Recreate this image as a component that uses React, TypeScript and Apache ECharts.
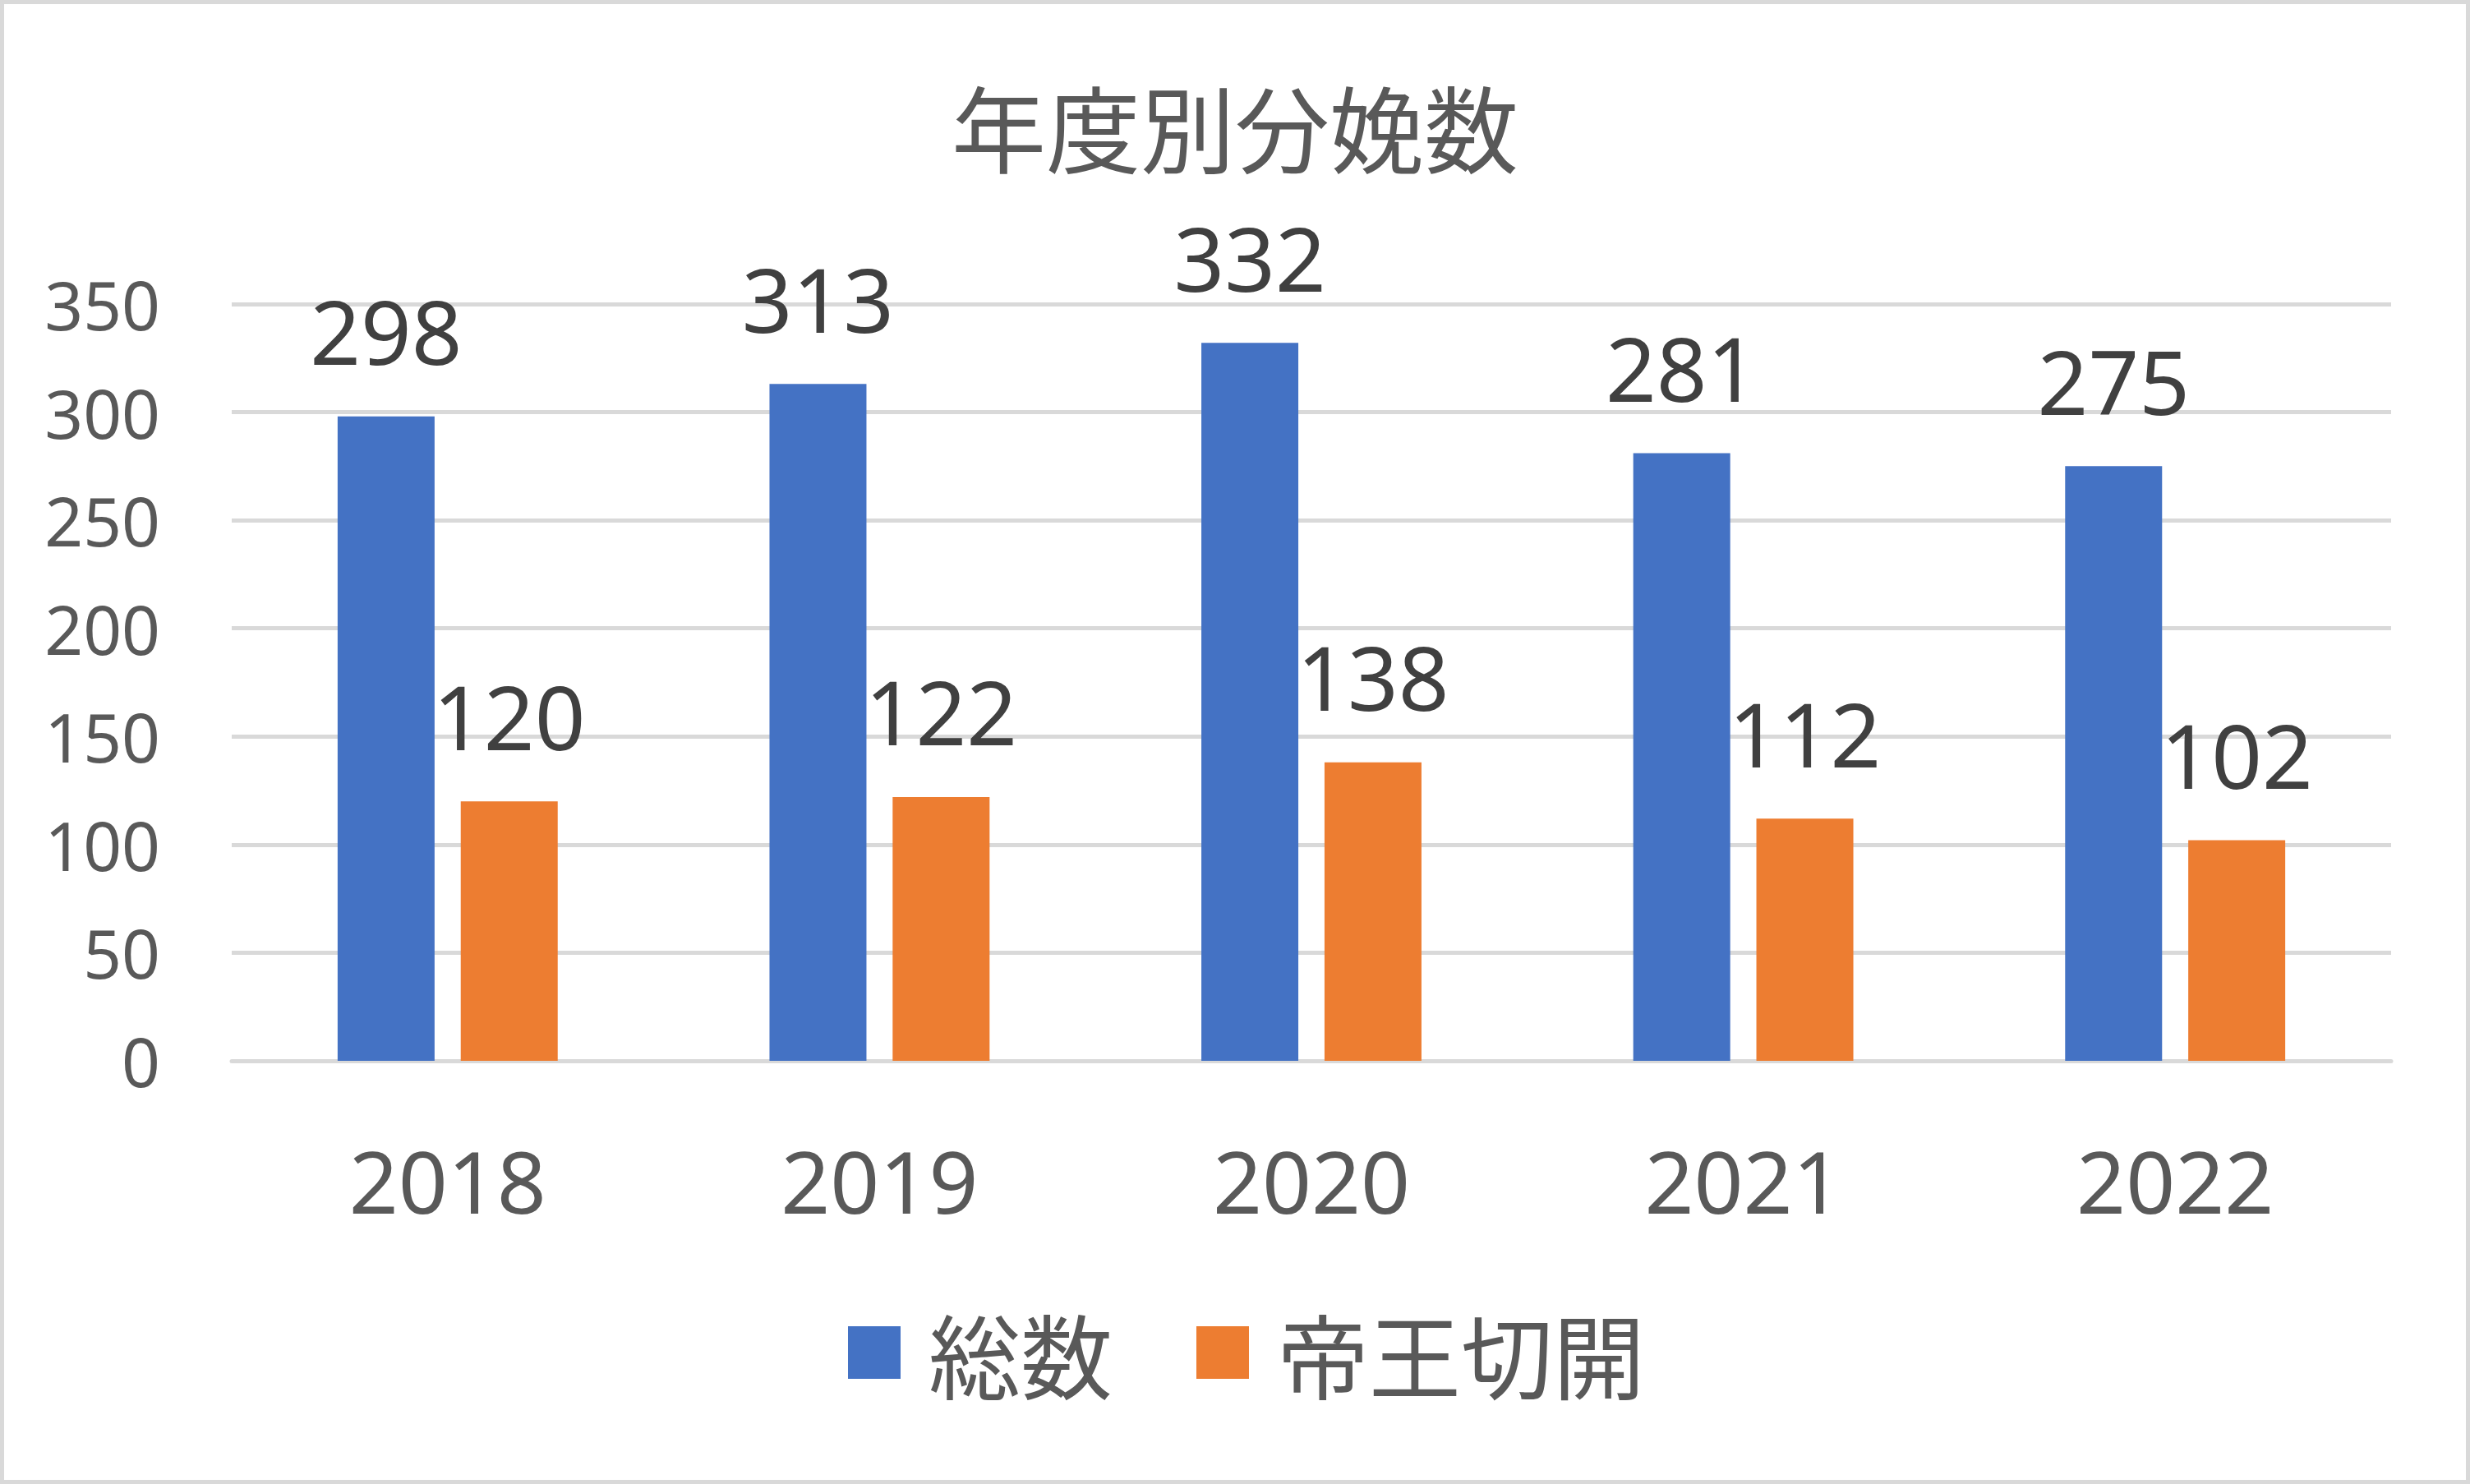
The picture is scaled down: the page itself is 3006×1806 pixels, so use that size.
import React, { useEffect, useRef } from "react";
import * as echarts from "echarts";

const years = ["2018", "2019", "2020", "2021", "2022"];
const totalBirths = [298, 313, 332, 281, 275];
const cesarean = [120, 122, 138, 112, 102];
const seriesNames = ["総数", "帝王切開"];
const titleText = "年度別分娩数";

const W = 3006;
const H = 1806;
const FONT = "'Noto Sans', 'Noto Sans CJK JP', sans-serif";

export default function App() {
  const ref = useRef<HTMLDivElement>(null);
  useEffect(() => {
    if (!ref.current) return;
    const chart = echarts.init(ref.current, undefined, { renderer: "svg" });
    const labelStyle = {
      show: true,
      position: "top" as const,
      distance: 50,
      fontSize: 108,
      color: "#404040",
      fontFamily: FONT,
    };
    chart.setOption({
      animation: false,
      backgroundColor: "#ffffff",
      title: {
        text: titleText,
        left: "center",
        top: 94,
        padding: 0,
        textStyle: {
          fontSize: 115,
          fontWeight: "normal",
          color: "#595959",
          fontFamily: "'Noto Sans CJK JP', sans-serif",
        },
      },
      legend: {
        data: seriesNames,
        left: 1032,
        top: 1590,
        padding: 0,
        icon: "rect",
        itemWidth: 64,
        itemHeight: 64,
        itemGap: 102,
        textStyle: {
          fontSize: 112,
          color: "#595959",
          fontFamily: "'Noto Sans CJK JP', sans-serif",
          padding: [0, 0, 0, 29],
        },
      },
      grid: { left: 282, right: 96, top: 370, bottom: 515, containLabel: false },
      xAxis: {
        type: "category",
        data: years,
        axisLine: { show: true, lineStyle: { color: "#D9D9D9", width: 5 } },
        axisTick: { show: false },
        axisLabel: { fontSize: 105, color: "#595959", margin: 93, fontFamily: FONT },
      },
      yAxis: {
        type: "value",
        min: 0,
        max: 350,
        interval: 50,
        axisLine: { show: false },
        axisTick: { show: false },
        splitLine: { lineStyle: { color: "#D9D9D9", width: 5 } },
        axisLabel: { fontSize: 82, color: "#595959", margin: 87, fontFamily: FONT },
      },
      series: [
        {
          name: seriesNames[0],
          type: "bar",
          data: totalBirths,
          barWidth: 118,
          barGap: "27%",
          itemStyle: { color: "#4472C4" },
          label: labelStyle,
        },
        {
          name: seriesNames[1],
          type: "bar",
          data: cesarean,
          barWidth: 118,
          barGap: "27%",
          itemStyle: { color: "#ED7D31" },
          label: labelStyle,
        },
      ],
      graphic: [
        {
          type: "rect",
          left: 0,
          top: 0,
          shape: { x: 0, y: 0, width: W - 5, height: H - 5 },
          style: { fill: "none", stroke: "#D9D9D9", lineWidth: 5 },
          position: [2.5, 2.5],
          silent: true,
        },
      ],
    });
    return () => chart.dispose();
  }, []);
  return (
    <div
      ref={ref}
      style={{ position: "fixed", left: 0, top: 0, width: W, height: H }}
    />
  );
}
